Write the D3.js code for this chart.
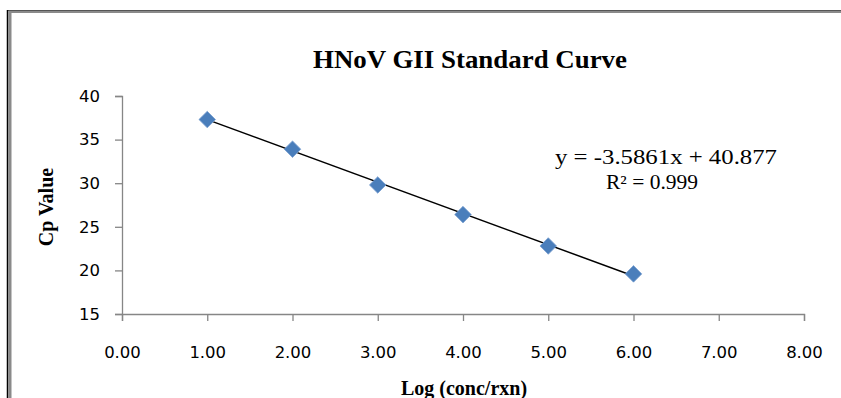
<!DOCTYPE html>
<html>
<head>
<meta charset="utf-8">
<script src="https://cdn.jsdelivr.net/npm/d3@7"></script>
<style>
  html, body { margin: 0; padding: 0; background: #fff; }
  svg { display: block; }
</style>
</head>
<body>
<svg id="chart" width="841" height="398"></svg>
<script>
// ---- data ----
const logConc = [1, 2, 3, 4, 5, 6];
const cpValues = [37.3, 33.9, 29.8, 26.4, 22.8, 19.6];
const xTicks = [0, 1, 2, 3, 4, 5, 6, 7, 8];
const yTicks = [15, 20, 25, 30, 35, 40];
const trendSlope = -3.5861;
const trendIntercept = 40.877;
const equationLines = ["y = -3.5861x + 40.877", "R\u00B2 = 0.999"];
const titleText = "HNoV GII Standard Curve";
const xTitle = "Log (conc/rxn)";
const yTitle = "Cp Value";

const svg = d3.select("#chart");

// chart border
svg.append("rect").attr("x", 10).attr("y", 11.5).attr("width", 900).attr("height", 500)
  .attr("fill", "none").attr("stroke", "#8a8a8a").attr("stroke-width", 3);
svg.append("line").attr("x1", 8).attr("x2", 900).attr("y1", 10.5).attr("y2", 10.5)
  .attr("stroke", "#555").attr("stroke-width", 1);
svg.append("line").attr("x1", 7.5).attr("x2", 7.5).attr("y1", 10).attr("y2", 400)
  .attr("stroke", "#000").attr("stroke-width", 1.5);

const x = d3.scaleLinear().domain([0, 8]).range([122, 804]);
const y = d3.scaleLinear().domain([15, 40]).range([314, 96]);

const tickFont = "'DejaVu Sans', sans-serif";

// y axis
const gy = svg.append("g").attr("transform", "translate(122,0)")
  .call(d3.axisLeft(y).tickValues(yTicks).tickSize(7).tickPadding(15).tickFormat(d3.format("d")));
// x axis
const gx = svg.append("g").attr("transform", "translate(0,314)")
  .call(d3.axisBottom(x).tickValues(xTicks).tickSize(7).tickPadding(25).tickFormat(d3.format(".2f")));

[gx, gy].forEach(g => {
  g.selectAll("path.domain").attr("stroke", "#868686").attr("stroke-width", 1.3);
  g.selectAll(".tick line").attr("stroke", "#868686").attr("stroke-width", 1.3);
  g.selectAll("text").attr("font-family", tickFont).attr("font-size", 16.5)
    .attr("fill", "#000");
});

// trend line
svg.append("line")
  .attr("x1", x(logConc[0])).attr("y1", y(trendSlope * logConc[0] + trendIntercept))
  .attr("x2", x(logConc[logConc.length - 1])).attr("y2", y(trendSlope * logConc[logConc.length - 1] + trendIntercept))
  .attr("stroke", "#000").attr("stroke-width", 1.5);

// markers (diamonds)
const sym = d3.symbol().type(d3.symbolDiamond2).size(175);
svg.append("g").selectAll("path").data(logConc.map((d, i) => [d, cpValues[i]]))
  .join("path")
  .attr("d", sym)
  .attr("transform", d => `translate(${x(d[0])},${y(d[1])})`)
  .attr("fill", "#4a7ebb").attr("stroke", "#7aa0d0").attr("stroke-width", 0.8);

// title
svg.append("text").attr("x", 470).attr("y", 68).attr("text-anchor", "middle")
  .attr("font-family", "'Liberation Serif', 'Times New Roman', serif").attr("font-weight", "bold")
  .attr("font-size", 25).attr("textLength", 314).attr("lengthAdjust", "spacingAndGlyphs")
  .text(titleText);

// axis titles
svg.append("text").attr("transform", "translate(53,207) rotate(-90)").attr("text-anchor", "middle")
  .attr("font-family", "'Liberation Serif', 'Times New Roman', serif").attr("font-weight", "bold")
  .attr("font-size", 20).text(yTitle);
svg.append("text").attr("x", 464).attr("y", 395).attr("text-anchor", "middle")
  .attr("font-family", "'Liberation Serif', 'Times New Roman', serif").attr("font-weight", "bold")
  .attr("font-size", 20).text(xTitle);

// equation
const eqWidths = [222, 92];
svg.append("g").selectAll("text").data(equationLines).join("text")
  .attr("x", (d, i) => i === 0 ? 666 : 652).attr("y", (d, i) => 164 + i * 25).attr("text-anchor", "middle")
  .attr("font-family", "'Liberation Serif', 'Times New Roman', serif")
  .attr("font-size", 20).attr("fill", "#000")
  .attr("textLength", (d, i) => eqWidths[i]).attr("lengthAdjust", "spacingAndGlyphs")
  .text(d => d);
</script>
</body>
</html>
